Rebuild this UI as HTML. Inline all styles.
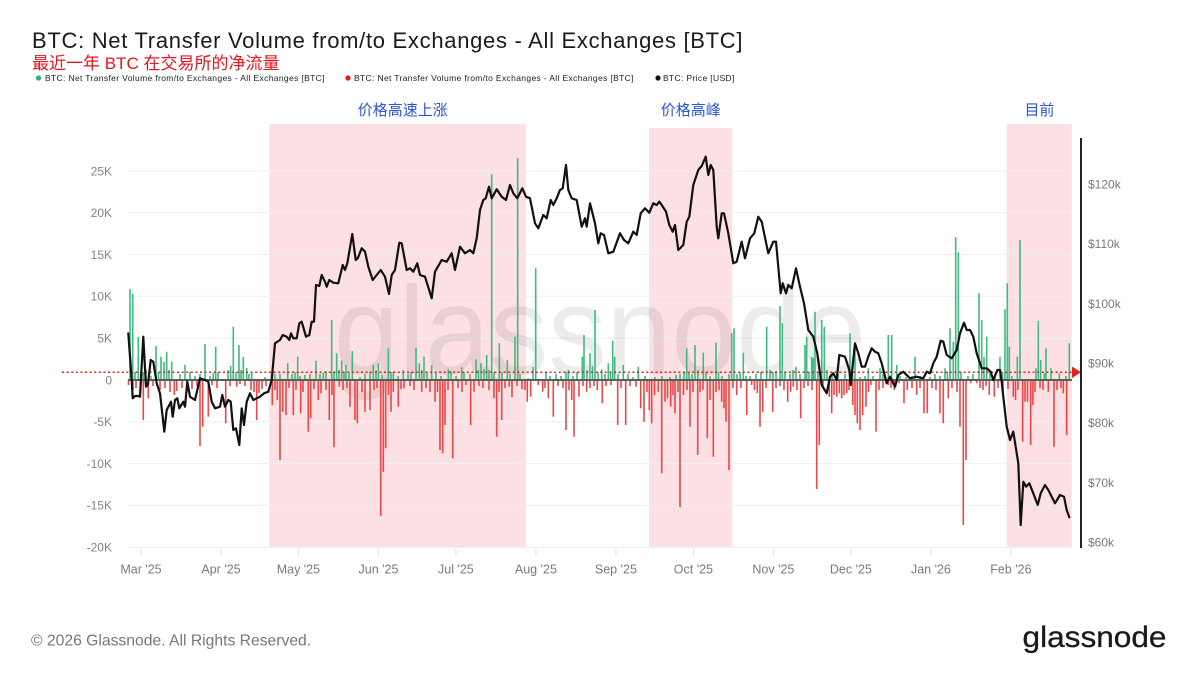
<!DOCTYPE html>
<html>
<head>
<meta charset="utf-8">
<style>
html,body{margin:0;padding:0;background:#fff;}
body{width:1200px;height:675px;overflow:hidden;}
svg{display:block;}
text{font-family:"Liberation Sans","Noto Sans CJK SC",sans-serif;}
</style>
</head>
<body>
<svg width="1200" height="675" viewBox="0 0 1200 675" xmlns="http://www.w3.org/2000/svg">
<rect x="0" y="0" width="1200" height="675" fill="#fff"/>

<!-- Title -->
<text x="32" y="48" font-size="22" letter-spacing="0.7" fill="#1a1a1a">BTC: Net Transfer Volume from/to Exchanges - All Exchanges [BTC]</text>
<text x="32" y="69" font-size="17" fill="#e8141e" font-family="'Liberation Sans','Noto Sans CJK SC',sans-serif">最近一年 BTC 在交易所的净流量</text>

<!-- Legend -->
<circle cx="38.5" cy="78" r="2.6" fill="#2bb673"/>
<text x="45" y="81" font-size="8.5" letter-spacing="0.35" fill="#222">BTC: Net Transfer Volume from/to Exchanges - All Exchanges [BTC]</text>
<circle cx="348" cy="78" r="2.6" fill="#e8141e"/>
<text x="354" y="81" font-size="8.5" letter-spacing="0.35" fill="#222">BTC: Net Transfer Volume from/to Exchanges - All Exchanges [BTC]</text>
<circle cx="658" cy="78" r="2.6" fill="#111"/>
<text x="663" y="81" font-size="8.5" letter-spacing="0.35" fill="#222">BTC: Price [USD]</text>

<!-- Shaded regions -->
<rect x="269.3" y="124" width="256.7" height="424" fill="#fde0e3"/>
<rect x="649" y="128" width="83.3" height="420" fill="#fde0e3"/>
<rect x="1006.7" y="124" width="65" height="424" fill="#fde0e3"/>

<!-- Annotation labels -->
<text x="402.7" y="115" font-size="15" fill="#2b56d9" text-anchor="middle">价格高速上涨</text>
<text x="690.8" y="115" font-size="15" fill="#2b56d9" text-anchor="middle">价格高峰</text>
<text x="1039.5" y="115" font-size="15" fill="#2b56d9" text-anchor="middle">目前</text>

<!-- Gridlines -->
<g stroke="#eceff3" stroke-width="1">
<line x1="128" y1="171" x2="1071.7" y2="171"/>
<line x1="128" y1="212.7" x2="1071.7" y2="212.7"/>
<line x1="128" y1="254.5" x2="1071.7" y2="254.5"/>
<line x1="128" y1="296.3" x2="1071.7" y2="296.3"/>
<line x1="128" y1="338.2" x2="1071.7" y2="338.2"/>
<line x1="128" y1="421.7" x2="1071.7" y2="421.7"/>
<line x1="128" y1="463.5" x2="1071.7" y2="463.5"/>
<line x1="128" y1="505.3" x2="1071.7" y2="505.3"/>
<line x1="128" y1="547.5" x2="1071.7" y2="547.5"/>
</g>

<!-- Watermark -->
<text x="334" y="374" font-size="125" textLength="532" lengthAdjust="spacingAndGlyphs" fill="#000" fill-opacity="0.075">glassnode</text>

<!-- Month ticks -->
<g stroke="#dcdfe3" stroke-width="1">
<line x1="141" y1="549" x2="141" y2="556"/>
<line x1="221" y1="549" x2="221" y2="556"/>
<line x1="298.4" y1="549" x2="298.4" y2="556"/>
<line x1="378.5" y1="549" x2="378.5" y2="556"/>
<line x1="455.9" y1="549" x2="455.9" y2="556"/>
<line x1="535.9" y1="549" x2="535.9" y2="556"/>
<line x1="615.9" y1="549" x2="615.9" y2="556"/>
<line x1="693.4" y1="549" x2="693.4" y2="556"/>
<line x1="773.4" y1="549" x2="773.4" y2="556"/>
<line x1="850.9" y1="549" x2="850.9" y2="556"/>
<line x1="930.9" y1="549" x2="930.9" y2="556"/>
<line x1="1010.9" y1="549" x2="1010.9" y2="556"/>
</g>

<!-- Green bars -->
<path fill="none" stroke="#3dbb80" stroke-width="1.6" d="
M130 380V289.3M132.7 380V294M135 380V372M138.3 380V336.7M141 380V375M143.3 380V372M146 380V370M151 380V376M156 380V346M158.5 380V372M161 380V356.7M164 380V361.7M166.7 380V351.7M169 380V370M171.7 380V361.7M180 380V374M185 380V365M190 380V371.7M195 380V376M200 380V374M205 380V344M210 380V376M213.3 380V373M215.7 380V346.7M218 380V372M228 380V370M230.7 380V366M233.3 380V326.7M236 380V372M239 380V345M241 380V370M243.3 380V356.7M246.7 380V368M249 380V374M251.7 380V373M265 380V377
M275 380V374M280 380V374M287.7 380V363.3M292 380V374M295 380V372M297.7 380V356.7M300 380V376M305 380V375M310 380V374M316 380V360.7M320 380V374M323.3 380V373M326 380V371M331.7 380V320M334 380V372M336.7 380V353.3M339 380V370M341.7 380V360.7M344 380V372M346 380V365M349 380V373M352.3 380V351M360 380V377M365 380V374M370 380V372M373.3 380V365M376 380V370M378.3 380V363.3M382 380V375M388.3 380V348.3M391 380V372M393.3 380V371.7M398 380V376M403.3 380V370M408 380V374M411 380V372M416 380V347.7M419.3 380V363.3M421.7 380V370M424 380V356.7M427 380V372M431.7 380V365M436 380V373M441 380V376M448.3 380V369.3M451 380V371M456 380V376M461.7 380V367.3M464 380V372M470 380V374M476 380V359.3M478.5 380V370M481 380V363.3M484 380V369M486.7 380V355M489 380V370M491.7 380V174.3M494 380V372M499.3 380V343.3M502 380V372M507.3 380V360M510 380V374M515 380V336.7M517.7 380V158.3M520 380V374M528 380V378M533 380V366.7M535.7 380V268.3
M546 380V371.7M550 380V376M556 380V374M561 380V376M566 380V372M568.3 380V370M573 380V376M577 380V372M582.3 380V356.7M584 380V335M587 380V370M590 380V353.3M592.5 380V366M595 380V310M598 380V372M601.7 380V369.3M605 380V374M608.3 380V363.3M610.5 380V372M612.7 380V340.7M614.7 380V356.7M618 380V374M623.3 380V365M628 380V374M633 380V377M638.3 380V366.7M645 380V376M655 380V377M662 380V376M670 380V377M676 380V375M680 380V374M684 380V372M686.7 380V348.3M689 380V372M692 380V374M695 380V345M698 380V370M703.3 380V352.7M706 380V372M710 380V376M716 380V342.7M718.5 380V372M722 380V376M729 380V374M731.7 380V333.3M734 380V328.3M737 380V374M740 380V372M743.3 380V352.7M746 380V376M750 380V376M756 380V374M761 380V372M766.7 380V326.7M770 380V370M773 380V372M776 380V371M780 380V306M782.3 380V323.3M785 380V372M790 380V374M793 380V370M796 380V366.7M800 380V374
M805 380V345M806.7 380V336.7M809 380V372M811.7 380V356.7M813.3 380V358.3M815 380V311.7M818 380V372M821.7 380V320M824.3 380V326.7M827 380V370M832 380V376M838 380V374M845 380V374M850 380V333.3M852.5 380V372M855 380V345M860 380V377M865 380V376M868.3 380V368.3M873 380V376M880 380V368.3M883 380V374M888.3 380V335M891.7 380V335M896.7 380V365M900 380V376M906 380V377M912 380V376M915 380V356.7M920 380V376M930 380V377M935 380V374M940 380V376M945 380V368.3M947.5 380V372M950 380V328.3M953.3 380V341.7M955.7 380V237.3M958.3 380V252.3M961 380V372M968 380V376M973 380V374M979 380V293.3M981.7 380V320M984 380V356.7M986.7 380V336.7M990 380V372M995 380V374M1000 380V356.7M1002.5 380V372M1005 380V309.3M1007.3 380V283.3M1009.3 380V346.7M1012 380V376M1017.3 380V356.7M1020 380V240M1036 380V368.3M1038.3 380V320.7M1040.7 380V360M1044.3 380V373.3M1046 380V348.3M1051 380V368.3M1059.3 380V373.3M1066 380V376M1069.3 380V343.3"/>

<!-- Red bars -->
<path fill="none" stroke="#ee4545" stroke-width="1.6" d="
M128.5 380V385M133 380V390M136 380V388M143.3 380V420M148.3 380V398.3M153 380V386M160 380V390M165 380V388M170 380V392M174.3 380V395M176.7 380V391M182 380V388M187 380V385M192 380V389M197 380V386M200 380V446M202.7 380V426.7M208.3 380V416.7M212 380V385M217 380V388M225.7 380V423.3M230 380V386M236.7 380V386.7M240 380V384M245 380V386M251 380V390M254 380V392M256.7 380V420M259 380V393M262 380V389M266 380V386
M272.3 380V405M275 380V390M277.3 380V400M280 380V460M282.7 380V411.7M286 380V415M289 380V388M293.3 380V415M296 380V390M300.7 380V413.3M303 380V392M308.3 380V431.7M310.7 380V418.3M314 380V389M318.3 380V400M321 380V393.3M326 380V390M329.3 380V420M332 380V395M334 380V447.3M339.3 380V386.7M343 380V390M347 380V388M350 380V406.7M355 380V420M357.3 380V423.3M362 380V392M365 380V411.7M370 380V410M374 380V390M377 380V388M380.7 380V515.7M383.3 380V471.7M385.7 380V448.3M388.5 380V395M391 380V411.7M393.3 380V391.7M398.3 380V406.7M401 380V389M404 380V388.3M410 380V386M414 380V390M421.7 380V391.7M426 380V388M430 380V392M435 380V401.7M437.5 380V392M440 380V450M442.7 380V453.3M445 380V425M448 380V390M452.7 380V458.3M458 380V388M462 380V392M466 380V385M470.7 380V425M474 380V391.7M479 380V386M483 380V388M489 380V390M494 380V398.3M496.7 380V436.7M499 380V392M501.7 380V420M505 380V388M509.3 380V386.7M512 380V397.3M517 380V386M522 380V389M525 380V390
M527.3 380V401.7M530.7 380V396.7M538.3 380V385M542.7 380V391.7M545 380V388M548.3 380V398.3M553.3 380V416.7M558 380V386M563 380V388M566 380V430M569 380V390M571.7 380V400M574 380V436.7M579 380V396.7M583 380V386M586.7 380V391.7M590 380V388M594 380V386M597.3 380V390M602.3 380V403.3M606 380V386M611 380V385M617.7 380V425M621 380V388M625.7 380V425M630 380V386M636 380V386.7M640.7 380V408.3M644 380V421.7M647 380V392M649.3 380V410M651.7 380V423.3M654.5 380V395M658.3 380V391.7M661.7 380V473.3M665 380V401.7M667.5 380V398.3M670.7 380V406.7M673 380V395M675 380V413.3M678 380V392M680 380V507.3M683.5 380V395M687 380V390M690 380V426.7M693 380V392M697.7 380V455M700 380V392M703 380V390M707.3 380V438.3M710 380V400M713.3 380V456.7M716 380V392M719 380V390M721.7 380V401.7M724 380V408.3M726 380V421.7M729 380V470M733 380V388M736.7 380V395M741 380V388M746.7 380V415M751.7 380V385M754.5 380V390M757.3 380V393.3M760 380V426.7M762.7 380V411.7M766 380V388M772.7 380V411.7M776 380V388M780 380V386M784 380V390M787.7 380V401.7M790.7 380V391.7M793.3 380V386.7M797 380V390
M800.7 380V418.3M804 380V388M808 380V386M812 380V390M816.7 380V489M819.3 380V445M823 380V388M829.3 380V396.7M831.7 380V413.3M834 380V395M836.7 380V396.7M839.3 380V393.3M841.7 380V398.3M844 380V395M846.7 380V393.3M849 380V390M852.7 380V405M855 380V415M857.3 380V423.3M860 380V430M862.7 380V415M866 380V406.7M868.5 380V392M871 380V385M876 380V431.7M879 380V390M883 380V388M888.3 380V385M891 380V388M894.3 380V390M899 380V383.3M904 380V403.3M907.3 380V390M912 380V388M916.7 380V395M920 380V388M924 380V413.3M927.3 380V413.3M932 380V388M936 380V390M940 380V413.3M943.3 380V423.3M948.3 380V398.3M952 380V388M957 380V392M960 380V426.7M963.3 380V525M966 380V460M970.7 380V383.3M976.7 380V383.3M980 380V388M983 380V390M986 380V386M989.3 380V395M994.3 380V396.7M998 380V388M1003 380V392M1008 380V389M1013.3 380V396.7M1015.5 380V400M1018 380V390M1022.7 380V441.7M1025 380V401.7M1027.5 380V401.7M1030.7 380V445M1032.9 380V405M1035 380V392M1040 380V388M1043 380V390M1048.3 380V391.7M1054 380V446.7M1057 380V390M1061 380V388M1063.3 380V393.3M1066.7 380V435"/>

<!-- Red dotted reference line -->
<line x1="62" y1="372.3" x2="1072" y2="372.3" stroke="#e3201f" stroke-width="1.5" stroke-dasharray="2 2.6"/>
<polygon points="1072,366.5 1072,378 1081,372.3" fill="#e3201f"/>

<!-- Zero line -->
<line x1="128" y1="380" x2="1072" y2="380" stroke="#52635b" stroke-width="2"/>

<!-- Price line -->
<polyline fill="none" stroke="#111" stroke-width="2.2" stroke-linejoin="round" stroke-linecap="round" points="128.3,333.3 131.7,380 132.7,398.3 135,396 138.3,396 140,396.7 143.3,336.7 146,386.7 148,384 150.7,360 153.3,361.7 156.7,383.3 160,393.3 164.3,431.7 166.7,410 171,401.7 172.7,416.7 175,400 177.3,398.3 179.3,408.3 183.3,401.7 185,406.7 187.3,381.7 190,396.7 195,400 200,378.3 205,380 208.3,381.7 211.7,401.7 215,408.3 220,406.7 222.3,395 225,406.7 228.3,400 230.7,401.7 233.3,430 236,428.3 239.3,445 241.7,408.3 244,425 246.7,401.7 250,393.3 253.3,400 256.7,398.3 260,396.7 264,393.3 268.3,391.7 271.7,380 275,343.3 280,340 282.7,335 286.7,336.7 289.3,340 291,333.3 293.3,338.3 296.7,338.3 299.3,323.3 301.7,321.7 306,336.7 309.3,335 311.7,321.7 314,321.7 316,285 319.3,286 321.7,275 325,281.7 326.7,286.7 329.3,280 333.3,282.7 338.3,283.3 342.7,265 345,270 347.3,263.3 352.3,234 355.7,260 357.7,258.3 361.7,248.3 365,251.7 368.3,266.7 372.7,280 376.7,275 380.7,270 385,276.7 389,294 391.7,275 395,270 399.3,242.7 401.7,243.3 406.7,270 410,268.3 413.3,271.7 417.3,263.3 420,275 425,276.7 431.7,298.3 435,271.7 441.7,260 446.7,261.7 451.7,253.3 455,270 460,246.7 465,253.3 470,250 473.3,253.3 476.7,238.3 480,210 483.3,200 485.7,198.3 489,186.7 491.7,198.3 496.7,189.3 501.7,196.7 506,200 510,185 513.3,193.3 517.3,198.3 522.3,188.3 526,196.7 530,198.3 535,223.3 538.3,228.3 543.3,215 546.7,218.3 550.7,200 553.3,205 556.7,198.3 560,190 562.7,188.3 566,165 568.3,190 571.7,198.3 576.7,200 581.7,226.7 585,218.3 586.7,226.7 590,203.3 595,223.3 598.3,243.3 600.7,233.3 604,235 608.3,253.3 613.3,251.7 620,233.3 624,240 628.3,243.3 633.3,231.7 636.7,235 640.7,213.3 645,208.3 649.3,212.7 653.3,203.3 656.7,205 659.3,201.7 661.7,205 666,211.7 669.3,225 672.7,231.7 675,225 678.3,250 683.3,245 686.7,221.7 689.3,216.7 693.3,185 698.3,170 701.7,166 705.7,156.7 708.3,175 710.7,165 713.3,170 716.7,226.7 718.3,238.3 721.7,213.3 724,213.3 728.3,233.3 733.3,263.3 736.7,261.7 741.7,241.7 745,258.3 750,238.3 754.3,233.3 758.3,216.7 761.7,221.7 768.3,253.3 773.3,241.7 776,241.7 780.7,293.3 782.7,283.3 786,293.3 788.3,285 791.7,288.3 796,268.3 800,286.7 804,303.3 808.3,330 813.3,336.7 817.3,353.3 820,373.3 821.7,385 826.7,393.3 830,376.7 833.3,373.3 836.7,380 839.3,355 845,356.7 849.3,370 850.7,385 855,343.3 858.3,353.3 861.7,366.7 865,366.7 868.3,356.7 871.7,348.3 875,351.7 878.3,353.3 881.7,363.3 886.7,383.3 890,376.7 895,386.7 898.3,375 903.3,371.7 910,378.3 916.7,376.7 923.3,378.3 926.7,371.7 930,373.3 933.3,363.3 936.7,356.7 940.7,340.7 943.3,341.7 946.7,355 951.7,358.3 956.7,350 960,333.3 964,322.7 966.7,330 970,330 973.3,336.7 976.7,353.3 981.7,368.3 986.7,368.3 990.7,371.7 993.3,380 997.3,370 1000,370 1001.7,381.7 1003.3,396.7 1006.7,426.7 1010,440 1013.3,431.7 1018.3,463.3 1020.7,525 1023.3,481.7 1026,486.7 1029.3,483.3 1033.3,493.3 1037.7,505 1040.7,493.3 1045,485 1048.3,490 1055,503.3 1060,495 1064,496.7 1066.7,510 1069.3,517.3"/>

<!-- Right axis line -->
<line x1="1081" y1="138" x2="1081" y2="548" stroke="#222" stroke-width="2"/>

<!-- Left axis labels -->
<g font-size="12" fill="#858585" text-anchor="end">
<text x="112" y="175.3">25K</text>
<text x="112" y="217">20K</text>
<text x="112" y="258.8">15K</text>
<text x="112" y="300.6">10K</text>
<text x="112" y="342.5">5K</text>
<text x="112" y="384.3">0</text>
<text x="112" y="426">-5K</text>
<text x="112" y="467.8">-10K</text>
<text x="112" y="509.6">-15K</text>
<text x="112" y="551.5">-20K</text>
</g>

<!-- Right axis labels -->
<g font-size="12" fill="#7a7a7a">
<text x="1088" y="188.6">$120k</text>
<text x="1088" y="248.2">$110k</text>
<text x="1088" y="307.9">$100k</text>
<text x="1088" y="367.5">$90k</text>
<text x="1088" y="427.2">$80k</text>
<text x="1088" y="486.9">$70k</text>
<text x="1088" y="546.6">$60k</text>
</g>

<!-- X axis labels -->
<g font-size="12.5" fill="#7a7a7a" text-anchor="middle">
<text x="141" y="573.5">Mar '25</text>
<text x="221" y="573.5">Apr '25</text>
<text x="298.4" y="573.5">May '25</text>
<text x="378.5" y="573.5">Jun '25</text>
<text x="455.9" y="573.5">Jul '25</text>
<text x="535.9" y="573.5">Aug '25</text>
<text x="615.9" y="573.5">Sep '25</text>
<text x="693.4" y="573.5">Oct '25</text>
<text x="773.4" y="573.5">Nov '25</text>
<text x="850.9" y="573.5">Dec '25</text>
<text x="930.9" y="573.5">Jan '26</text>
<text x="1010.9" y="573.5">Feb '26</text>
</g>

<!-- Footer -->
<text x="31" y="645.5" font-size="15.7" fill="#777">© 2026 Glassnode. All Rights Reserved.</text>
<text x="1022.5" y="647" font-size="30" textLength="144" lengthAdjust="spacingAndGlyphs" fill="#1a1a1a" stroke="#1a1a1a" stroke-width="0.3">glassnode</text>
</svg>
</body>
</html>
